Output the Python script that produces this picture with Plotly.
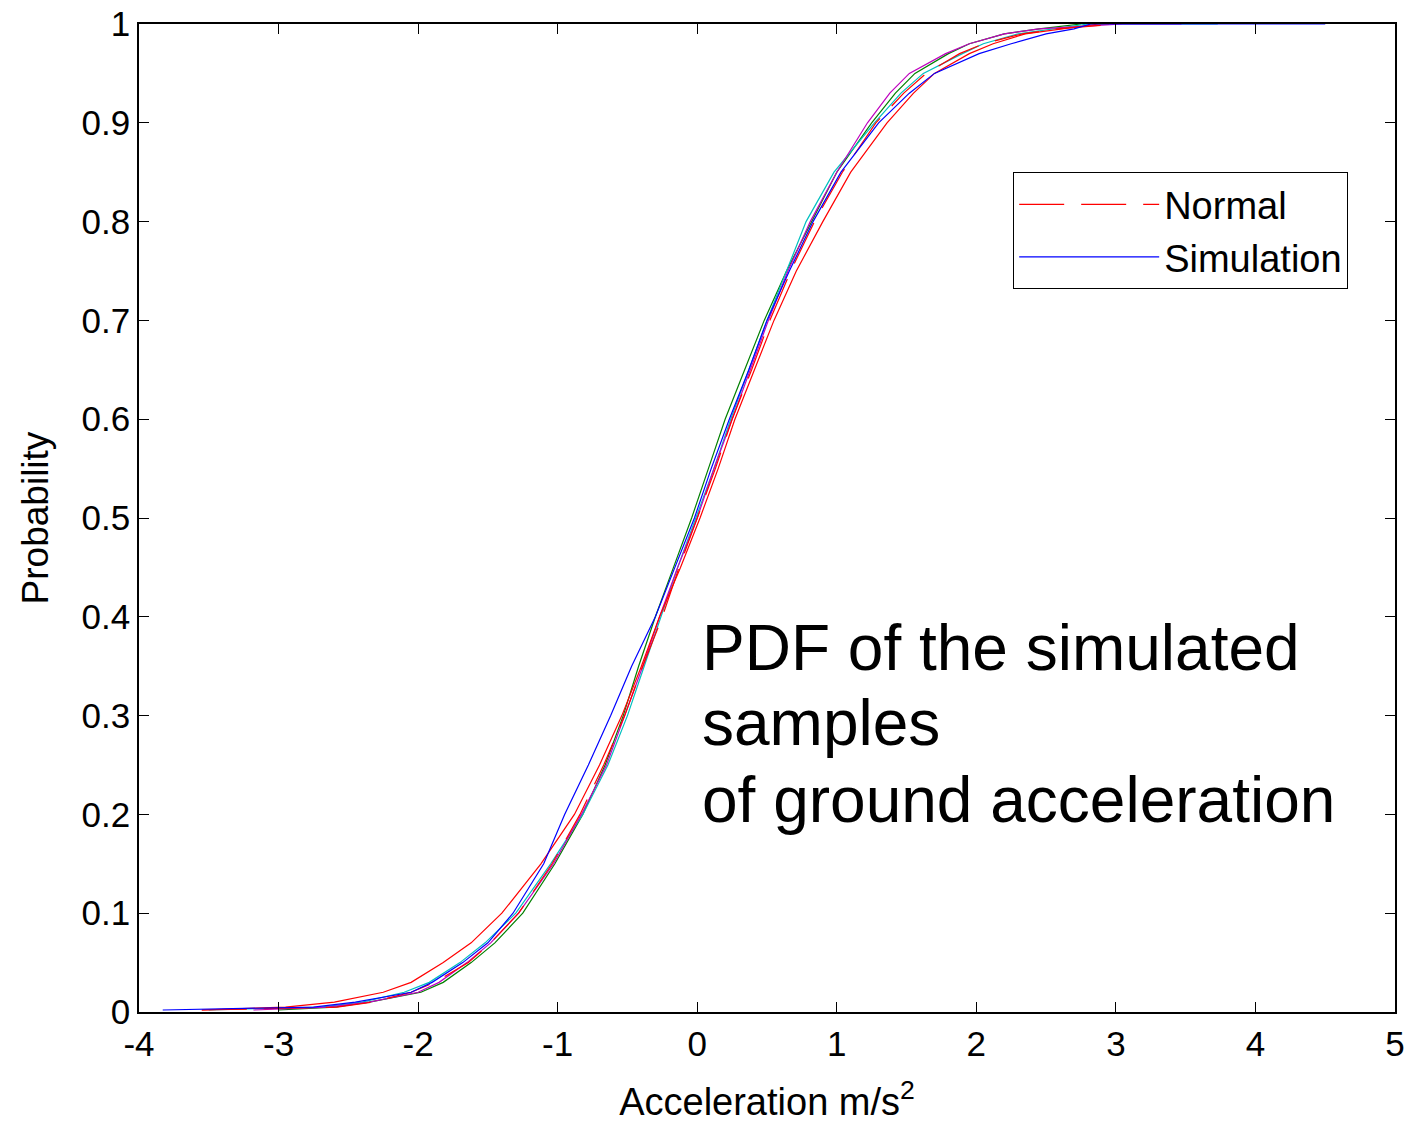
import plotly.graph_objects as go

# probability levels (common to all curves)
prob = [0.002, 0.005, 0.01, 0.02, 0.03, 0.05, 0.07, 0.1, 0.15, 0.2, 0.25, 0.3, 0.35,
        0.4, 0.45, 0.5, 0.55, 0.6, 0.65, 0.7, 0.75, 0.8, 0.85, 0.9, 0.93, 0.95,
        0.97, 0.98, 0.99, 0.995, 1.0, 1.0]

# acceleration values (m/s^2) read for each curve at the probability levels above
normal_x = [-3.55, -2.58, -2.33, -2.05, -1.88, -1.64, -1.48, -1.28, -1.04, -0.84, -0.67,
            -0.52, -0.39, -0.25, -0.13, 0.0, 0.13, 0.25, 0.39, 0.52, 0.67, 0.84, 1.04,
            1.28, 1.48, 1.64, 1.88, 2.05, 2.33, 2.58, 2.95, 3.0]
sim_blue_x = [-3.83, -2.75, -2.45, -2.05, -1.9, -1.68, -1.5, -1.32, -1.1, -0.95, -0.78,
              -0.62, -0.47, -0.3, -0.16, -0.02, 0.1, 0.23, 0.37, 0.5, 0.66, 0.83, 1.03,
              1.3, 1.52, 1.7, 2.02, 2.25, 2.5, 2.7, 2.82, 4.5]
sim_red_x = [-3.55, -2.95, -2.6, -2.25, -2.05, -1.82, -1.62, -1.4, -1.12, -0.88, -0.7,
             -0.54, -0.4, -0.27, -0.12, 0.02, 0.15, 0.27, 0.41, 0.55, 0.71, 0.9, 1.1,
             1.36, 1.55, 1.7, 1.95, 2.12, 2.35, 2.6, 2.88, 2.95]
sim_green_x = [-3.0, -2.6, -2.35, -1.98, -1.82, -1.62, -1.45, -1.25, -1.02, -0.82, -0.66,
               -0.53, -0.42, -0.3, -0.17, -0.04, 0.08, 0.2, 0.34, 0.48, 0.64, 0.82, 1.0,
               1.25, 1.42, 1.56, 1.8, 1.95, 2.2, 2.45, 2.72, 2.75]
sim_cyan_x = [-3.5, -2.7, -2.4, -2.1, -1.92, -1.7, -1.52, -1.3, -1.05, -0.82, -0.64,
              -0.5, -0.38, -0.26, -0.14, -0.01, 0.12, 0.24, 0.37, 0.5, 0.64, 0.78, 0.98,
              1.27, 1.46, 1.62, 1.9, 2.05, 2.3, 2.55, 2.8, 3.73]
sim_magenta_x = [-3.18, -2.65, -2.35, -2.0, -1.85, -1.65, -1.48, -1.28, -1.03, -0.83, -0.65,
                 -0.52, -0.39, -0.27, -0.14, 0.0, 0.12, 0.25, 0.38, 0.51, 0.65, 0.81, 1.0,
                 1.22, 1.38, 1.52, 1.78, 1.95, 2.2, 2.45, 3.05, 3.47]

x_ticks = [-4, -3, -2, -1, 0, 1, 2, 3, 4, 5]
x_tick_labels = ["-4", "-3", "-2", "-1", "0", "1", "2", "3", "4", "5"]
y_ticks = [0, 0.1, 0.2, 0.3, 0.4, 0.5, 0.6, 0.7, 0.8, 0.9, 1]
y_tick_labels = ["0", "0.1", "0.2", "0.3", "0.4", "0.5", "0.6", "0.7", "0.8", "0.9", "1"]

note_lines = ["PDF of the simulated", "samples", "of ground acceleration"]
note_y = [0.368, 0.2925, 0.2146]

FONT = "Liberation Sans, Arial, Helvetica, sans-serif"

fig = go.Figure()

extra = [
    (sim_green_x, "#008000"),
    (sim_cyan_x, "#00bfbf"),
    (sim_magenta_x, "#bf00bf"),
    (sim_red_x, "#ff0000"),
]
for xs, col in extra:
    fig.add_trace(go.Scatter(x=xs, y=prob, mode="lines", line=dict(color=col, width=1.2),
                             showlegend=False, hoverinfo="skip"))

fig.add_trace(go.Scatter(x=normal_x, y=prob, mode="lines", name="Normal",
                         line=dict(color="#ff0000", width=1.2, dash="45px,17px")))
fig.add_trace(go.Scatter(x=sim_blue_x, y=prob, mode="lines", name="Simulation",
                         line=dict(color="#0000ff", width=1.2)))

for txt, yy in zip(note_lines, note_y):
    fig.add_annotation(x=0.02, y=yy, xref="x", yref="y", xanchor="left", yanchor="middle",
                       align="left", showarrow=False, text=txt,
                       font=dict(family=FONT, size=64, color="black"))

axis_common = dict(showline=True, linecolor="black", linewidth=1.5, mirror="ticks",
                   ticks="inside", ticklen=10, tickcolor="black", tickwidth=1,
                   showgrid=False, zeroline=False, automargin=False,
                   ticklabeloverflow="allow",
                   tickfont=dict(family=FONT, size=35, color="black"))

fig.update_layout(
    width=1410, height=1127,
    margin=dict(l=139, r=15, t=24, b=115),
    plot_bgcolor="white", paper_bgcolor="white",
    font=dict(family=FONT, color="black"),
    xaxis=dict(range=[-4, 5], tickvals=x_ticks, ticktext=x_tick_labels,
               title=dict(text="Acceleration m/s<sup>2</sup>", font=dict(family=FONT, size=38), standoff=27),
               **axis_common),
    yaxis=dict(range=[0, 1], tickvals=y_ticks, ticktext=y_tick_labels,
               title=dict(text="Probability", font=dict(family=FONT, size=37), standoff=22),
               **axis_common),
    legend=dict(x=0.696, y=0.85, xanchor="left", yanchor="top",
                bgcolor="white", bordercolor="black", borderwidth=1,
                font=dict(family=FONT, size=38, color="black"),
                itemwidth=140),
)

fig.write_html("out.html", config={"displayModeBar": False},
               post_script="document.body.style.margin='0px';")
